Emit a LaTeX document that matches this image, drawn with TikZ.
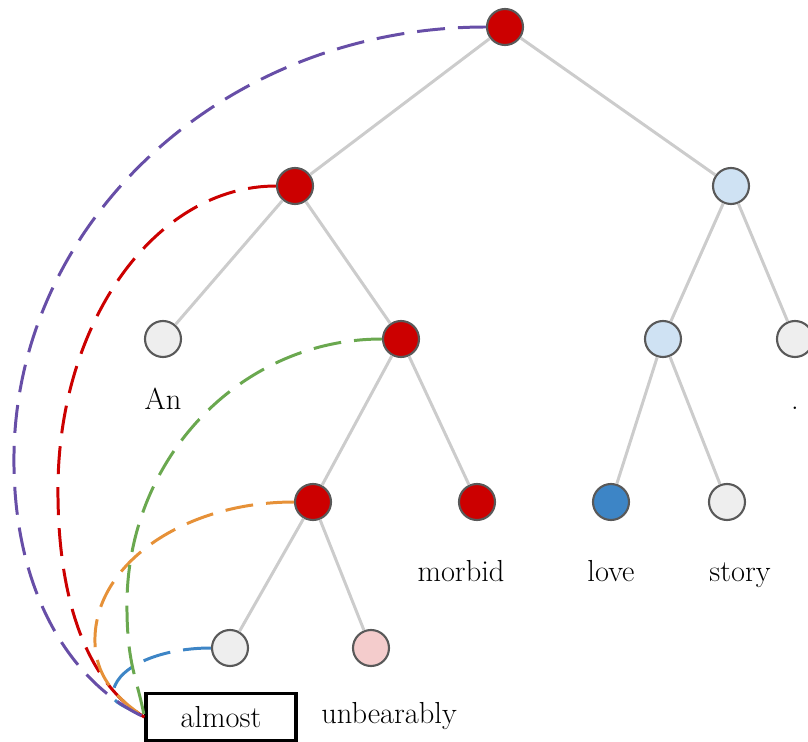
\documentclass[tikz,border=0pt]{standalone}
\usepackage{tikz}
\usetikzlibrary{positioning}
\definecolor{NodeRed}{HTML}{CC0000}
\definecolor{NodeGray}{HTML}{EEEEEE}
\definecolor{NodePaleBlue}{HTML}{CFE2F3}
\definecolor{NodeBlue}{HTML}{3D85C6}
\definecolor{NodePink}{HTML}{F4CCCC}
\definecolor{RimGray}{HTML}{595959}
\definecolor{EdgeGray}{HTML}{CCCCCC}
\definecolor{ArcPurple}{HTML}{674EA7}
\definecolor{ArcRed}{HTML}{CC0000}
\definecolor{ArcGreen}{HTML}{6AA84F}
\definecolor{ArcOrange}{HTML}{E69138}
\definecolor{ArcBlue}{HTML}{3D85C6}
\tikzset{
  treenode/.style={circle, draw=RimGray, line width=1.2pt, fill=NodeGray, minimum size=0.72cm, inner sep=0pt},
  rednode/.style={treenode, fill=NodeRed},
  palenode/.style={treenode, fill=NodePaleBlue},
  bluenode/.style={treenode, fill=NodeBlue},
  pinknode/.style={treenode, fill=NodePink},
  treeedge/.style={EdgeGray, line width=1.7pt},
  word/.style={font=\fontsize{17.3}{21}\selectfont, inner sep=0pt, anchor=base},
  wordbox/.style={rectangle, draw=black, line width=1.8pt, minimum width=3cm, minimum height=0.94cm, inner sep=0pt, font=\fontsize{17.3}{21}\selectfont},
  attnarc/.style={line width=1.7pt, dash pattern=on 0.56cm off 0.26cm}
}

\begin{document}
\begin{tikzpicture}
  \useasboundingbox (0,0) rectangle (16.16,-14.84);

  % tree
  \node[rednode] (root) at (10.1,-0.54) {};
  \node[rednode] (l1) at (5.9,-3.72) {};
  \node[palenode] (r1) at (14.62,-3.72) {};
  \node[treenode] (an) at (3.26,-6.78) {};
  \node[rednode] (m2) at (8.02,-6.78) {};
  \node[palenode] (r2) at (13.26,-6.78) {};
  \node[treenode] (dot) at (15.9,-6.78) {};
  \node[rednode] (m3) at (6.26,-10.04) {};
  \node[rednode] (morbid) at (9.54,-10.04) {};
  \node[bluenode] (love) at (12.22,-10.04) {};
  \node[treenode] (story) at (14.54,-10.04) {};
  \node[treenode] (almost) at (4.6,-12.96) {};
  \node[pinknode] (unbear) at (7.42,-12.96) {};

  \draw[treeedge] (root) -- (l1);
  \draw[treeedge] (root) -- (r1);
  \draw[treeedge] (l1) -- (an);
  \draw[treeedge] (l1) -- (m2);
  \draw[treeedge] (r1) -- (r2);
  \draw[treeedge] (r1) -- (dot);
  \draw[treeedge] (m2) -- (m3);
  \draw[treeedge] (m2) -- (morbid);
  \draw[treeedge] (r2) -- (love);
  \draw[treeedge] (r2) -- (story);
  \draw[treeedge] (m3) -- (almost);
  \draw[treeedge] (m3) -- (unbear);

  % words
  \node[below=1.02cm of an, word] (wan) {An};
  \node[below=1.02cm of dot, word] (wdot) {.};
  \node[below=1.2cm of morbid, xshift=-0.32cm, word] (wmorbid) {morbid};
  \node[below=1.2cm of love, word] (wlove) {love};
  \node[below=1.2cm of story, xshift=0.26cm, word] (wstory) {story};
  \node[wordbox, below=0.5cm of almost, xshift=-0.18cm] (walmost) {almost};
  \node[below=1.12cm of unbear, xshift=0.36cm, word] (wunbear) {unbearably};

  % attention arcs
  \draw[attnarc, ArcBlue] (almost.west) .. controls +(-1.08,0) and +(0,0.52) .. ++(-1.96,-0.94)
    .. controls +(0,-0.15) and +(-0.45,0.25) .. (walmost.west);
  \draw[attnarc, ArcRed] (l1.west) .. controls +(-2.41,0) and +(0,3.36) .. ++(-4.36,-6.08)
    .. controls +(0,-2.5) and +(-1,0.6) .. (walmost.west);
  \draw[attnarc, ArcOrange] (m3.west) .. controls +(-2.2,0) and +(0,1.52) .. ++(-3.98,-2.76)
    .. controls +(0,-0.7) and +(-0.6,0.4) .. (walmost.west);
  \draw[attnarc, ArcPurple] (root.west) .. controls +(-5.21,0) and +(0,4.78) .. ++(-9.44,-8.66)
    .. controls +(0,-2.8) and +(-1.36,0.63) .. (walmost.west);
  \draw[attnarc, ArcGreen] (m2.west) .. controls +(-2.82,0) and +(0,2.94) .. ++(-5.1,-5.32)
    .. controls +(0,-1.2) and +(-0.15,0.8) .. (walmost.west);
\end{tikzpicture}
\end{document}
